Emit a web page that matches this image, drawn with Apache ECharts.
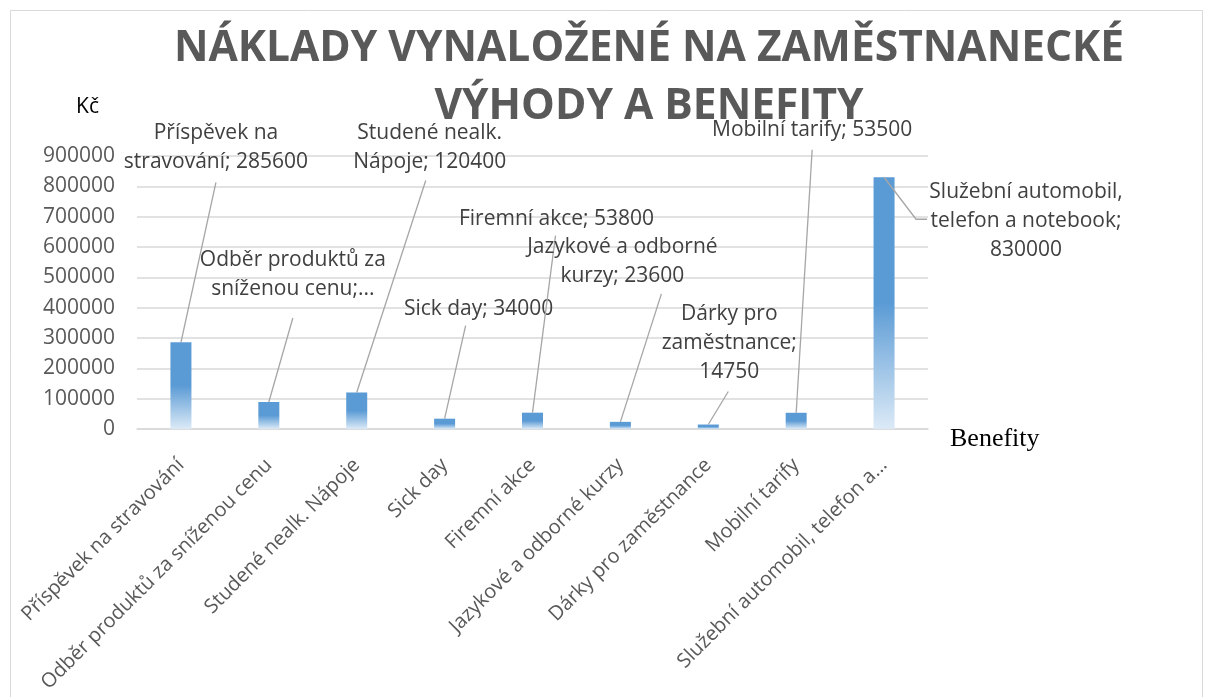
<!DOCTYPE html>
<html>
<head>
<meta charset="utf-8">
<script src="https://cdn.jsdelivr.net/npm/echarts@6/dist/echarts.min.js"></script>
<style>
  html, body { margin: 0; padding: 0; background: #fff; }
  #Benefity { width: 1205px; height: 697px; }
</style>
</head>
<body>
<div id="Benefity"></div>
<script>
// data
var categories = [
  'Příspěvek na stravování',
  'Odběr produktů za sníženou cenu',
  'Studené nealk. Nápoje',
  'Sick day',
  'Firemní akce',
  'Jazykové a odborné kurzy',
  'Dárky pro zaměstnance',
  'Mobilní tarify',
  'Služební automobil, telefon a notebook'
];
var values = [285600, 89000, 120400, 34000, 53800, 23600, 14750, 53500, 830000];
var yTicks = [0, 100000, 200000, 300000, 400000, 500000, 600000, 700000, 800000, 900000];

// texty popisků (jak je Excel zalomil), {c} = hodnota
var labelFormats = [
  'Příspěvek na\nstravování; {c}',
  'Odběr produktů za\nsníženou cenu;...',
  'Studené nealk.\nNápoje; {c}',
  'Sick day; {c}',
  'Firemní akce; {c}',
  'Jazykové a odborné\nkurzy; {c}',
  'Dárky pro\nzaměstnance;\n{c}',
  'Mobilní tarify; {c}',
  'Služební automobil,\ntelefon a notebook;\n{c}'
];
// posun středu popisku od vrcholu sloupce
var labelOffsets = [[35, -195], [24, -127], [73, -245], [34, -110], [24, -194],
  [2, -160], [21, -82], [16, -283], [142, 44]];
// body vodicí čáry relativně ke středu popisku
var lineAnchors = [
  [[0, 35]], [[0, 43]], [[-4, 33]], [[-13, 17]], [[-1, 17]],
  [[39, 32]], [[-1, 49]], [[0, 20]], [[-110, -2], [-99, -2]]
];

var barFill = new echarts.graphic.LinearGradient(0, 0, 0, 1, [
  { offset: 0, color: '#5B9BD5' },
  { offset: 0.5, color: '#5B9BD5' },
  { offset: 1, color: '#DCEAF7' }
]);

var chart = echarts.init(document.getElementById('Benefity'));
chart.setOption({
  animation: false,
  backgroundColor: '#fff',
  graphic: [{
    type: 'rect',
    shape: { x: 10.5, y: 10.5, width: 1192, height: 700 },
    style: { fill: 'none', stroke: '#d9d9d9', lineWidth: 1 },
    silent: true
  }],
  title: {
    text: 'NÁKLADY VYNALOŽENÉ NA ZAMĚSTNANECKÉ\nVÝHODY A BENEFITY',
    left: 644,
    textAlign: 'center',
    top: 15,
    textStyle: {
      fontFamily: 'Open Sans',
      fontWeight: 'bold',
      fontSize: 42.5,
      lineHeight: 58,
      color: '#595959'
    }
  },
  grid: {
    left: 137,
    right: 277,
    top: 156,
    bottom: 268
  },
  xAxis: {
    type: 'category',
    data: categories,
    name: 'Benefity',
    nameLocation: 'end',
    nameGap: 22,
    nameTextStyle: {
      fontFamily: 'Liberation Serif',
      fontSize: 26,
      lineHeight: 20,
      color: '#000',
      verticalAlign: 'top'
    },
    axisLine: { lineStyle: { color: '#d9d9d9', width: 1.5 } },
    axisTick: { show: false },
    axisLabel: {
      interval: 0,
      rotate: 45,
      margin: 33,
      fontFamily: 'Open Sans',
      fontSize: 20,
      color: '#595959',
      formatter: function (v) {
        return v.length > 32 ? v.slice(0, 29) + '...' : v;
      }
    }
  },
  yAxis: {
    type: 'value',
    min: yTicks[0],
    max: yTicks[yTicks.length - 1],
    interval: yTicks[1] - yTicks[0],
    name: 'Kč',
    nameLocation: 'end',
    nameGap: 38,
    nameTextStyle: {
      fontFamily: 'Open Sans',
      fontSize: 21,
      color: '#000',
      align: 'right',
      padding: [0, 38, 0, 0]
    },
    axisLine: { show: false },
    axisTick: { show: false },
    splitLine: { lineStyle: { color: '#d9d9d9', width: 1.5 } },
    axisLabel: {
      margin: 22,
      fontFamily: 'Open Sans',
      fontSize: 21,
      color: '#595959',
      formatter: function (v) { return String(v); }
    }
  },
  series: [
    {
      name: 'Benefity',
      type: 'bar',
      barWidth: 21,
      itemStyle: { color: barFill },
      data: values
    },
    {
      // popisky dat s vodicími čarami
      type: 'custom',
      silent: true,
      z: 5,
      data: values.map(function (v, i) { return [i, v]; }),
      renderItem: function (params, api) {
        var i = api.value(0);
        var v = api.value(1);
        var top = api.coord([i, v]);
        var o = labelOffsets[i];
        var cx = top[0] + o[0];
        var cy = top[1] + o[1];
        var pts = [top].concat(lineAnchors[i].map(function (a) {
          return [cx + a[0], cy + a[1]];
        }));
        return {
          type: 'group',
          children: [
            {
              type: 'polyline',
              shape: { points: pts },
              style: { stroke: '#a6a6a6', lineWidth: 1.3, fill: null }
            },
            {
              type: 'text',
              x: cx,
              y: cy,
              style: {
                text: labelFormats[i].replace('{c}', v),
                align: 'center',
                verticalAlign: 'middle',
                fontFamily: 'Open Sans',
                fontSize: 21,
                lineHeight: 29,
                fill: '#404040'
              }
            }
          ]
        };
      }
    }
  ]
});
</script>
</body>
</html>
